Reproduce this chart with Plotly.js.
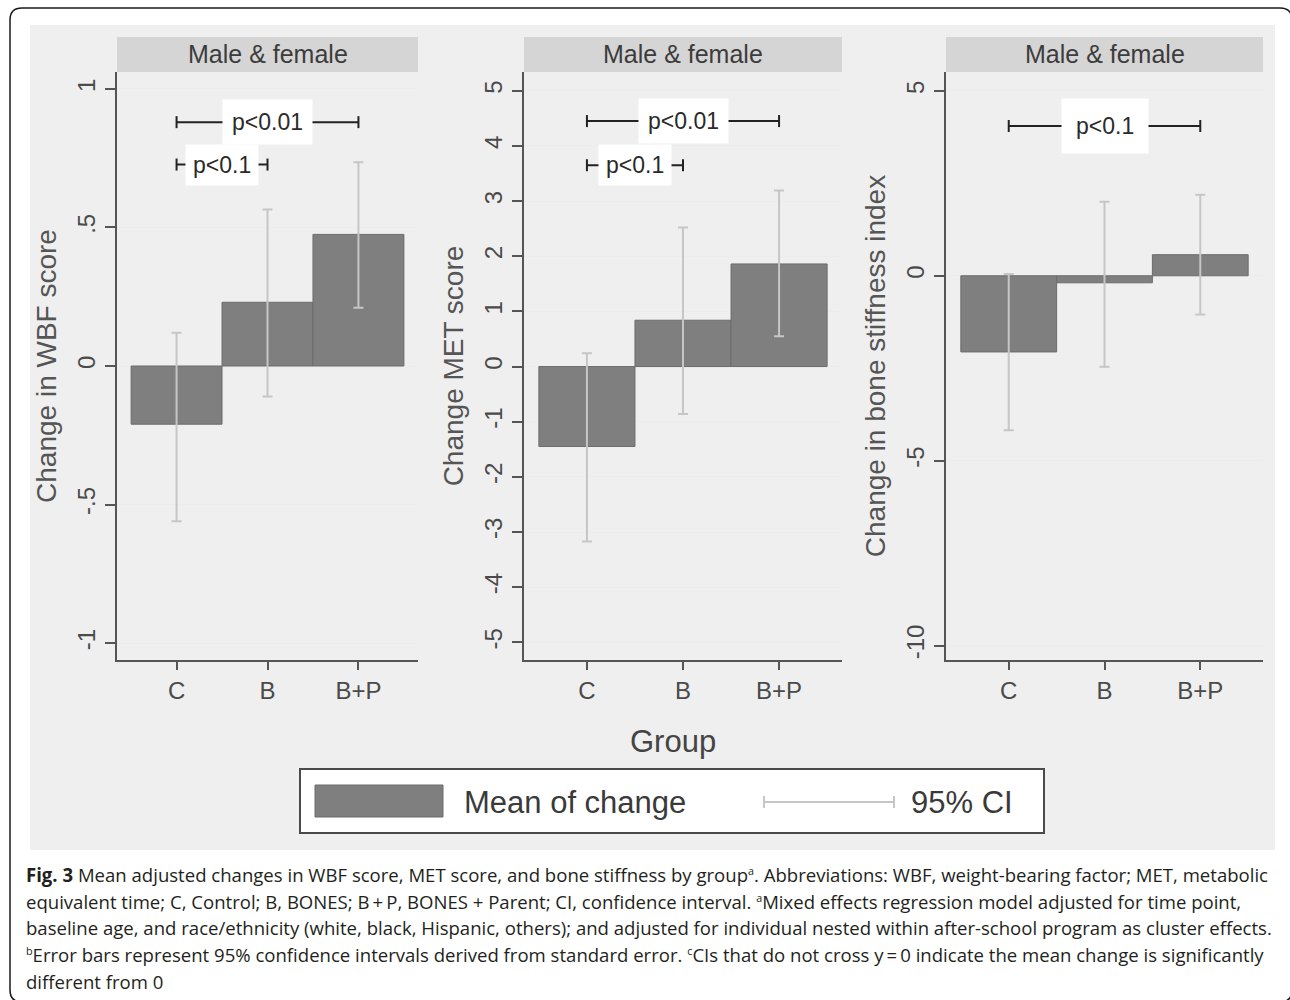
<!DOCTYPE html>
<html>
<head>
<meta charset="utf-8">
<script src="https://cdn.plot.ly/plotly-3.0.1.min.js"></script>
<style>
  html, body { margin: 0; padding: 0; background: #fff; overflow: hidden; }
  #wrap { position: relative; width: 1290px; height: 1000px; overflow: hidden; }
  #chart { position: absolute; left: 0; top: 0; width: 1290px; height: 1000px; }
  #caption { position: absolute; left: 26px; top: 862px; font-family: "Open Sans", "Noto Sans", sans-serif;
             font-size: 19px; color: #231f20; transform-origin: 0 0; white-space: nowrap; }
  #caption div { height: 26.7px; line-height: 26.7px; }
  #caption sup { font-size: 11px; line-height: 0; vertical-align: 7px; }
</style>
</head>
<body>
<div id="wrap">
  <div id="chart"></div>
  <div id="caption"></div>
</div>
<script>
// ---------------- data ----------------
const groups = ['C', 'B', 'B+P'];

const wbfMean = [-0.21, 0.23, 0.475];
const wbfLow  = [-0.56, -0.11, 0.21];
const wbfHigh = [0.12, 0.565, 0.735];

const metMean = [-1.45, 0.84, 1.86];
const metLow  = [-3.17, -0.86, 0.55];
const metHigh = [0.24, 2.52, 3.19];

const bsiMean = [-2.06, -0.19, 0.57];
const bsiLow  = [-4.18, -2.46, -1.05];
const bsiHigh = [0.05, 2.0, 2.19];

const wbfTickVals = [-1, -0.5, 0, 0.5, 1];
const wbfTickText = ['-1', '-.5', '0', '.5', '1'];
const metTickVals = [-5, -4, -3, -2, -1, 0, 1, 2, 3, 4, 5];
const metTickText = ['-5', '-4', '-3', '-2', '-1', '0', '1', '2', '3', '4', '5'];
const bsiTickVals = [-10, -5, 0, 5];
const bsiTickText = ['-10', '-5', '0', '5'];

const yTitles = ['Change in WBF score', 'Change MET score', 'Change in bone stiffness index'];
const stripLabel = 'Male & female';
const xTitle = 'Group';
const legendLabels = ['Mean of change', '95% CI'];

// significance brackets (from group index, to group index, y level, label)
const wbfPFrom = [0, 0], wbfPTo = [2, 1], wbfPY = [0.88, 0.727], wbfPText = ['p<0.01', 'p<0.1'];
const metPFrom = [0, 0], metPTo = [2, 1], metPY = [4.45, 3.65], metPText = ['p<0.01', 'p<0.1'];
const bsiPFrom = [0], bsiPTo = [2], bsiPY = [4.05], bsiPText = ['p<0.1'];

const captionLines = [
  '<b>Fig. 3</b> Mean adjusted changes in WBF score, MET score, and bone stiffness by group<sup>a</sup>. Abbreviations: WBF, weight-bearing factor; MET, metabolic',
  'equivalent time; C, Control; B, BONES; B\u2009+\u2009P, BONES + Parent; CI, confidence interval. <sup>a</sup>Mixed effects regression model adjusted for time point,',
  'baseline age, and race/ethnicity (white, black, Hispanic, others); and adjusted for individual nested within after-school program as cluster effects.',
  '<sup>b</sup>Error bars represent 95% confidence intervals derived from standard error. <sup>c</sup>CIs that do not cross y\u2009=\u20090 indicate the mean change is significantly',
  'different from 0'
];

// ---------------- layout helpers ----------------
const W = 1290, H = 1000;
const fx = v => v / W;
const fy = v => 1 - v / H;
const FONT = '"Liberation Sans", Arial, Helvetica, sans-serif';
const BAR = '#7f7f7f', BAR_LINE = '#6c6c6c', CI = '#c6c6c6', AX = '#555555';

const panels = [
  { mean: wbfMean, lo: wbfLow, hi: wbfHigh, tv: wbfTickVals, tt: wbfTickText, range: [-1.061, 1.061],
    pf: wbfPFrom, pt: wbfPTo, py: wbfPY, ptx: wbfPText, pad: [9, 7], x0: 117, x1: 418 },
  { mean: metMean, lo: metLow, hi: metHigh, tv: metTickVals, tt: metTickText, range: [-5.32, 5.34],
    pf: metPFrom, pt: metPTo, py: metPY, ptx: metPText, pad: [9, 7], x0: 524, x1: 842 },
  { mean: bsiMean, lo: bsiLow, hi: bsiHigh, tv: bsiTickVals, tt: bsiTickText, range: [-10.39, 5.51],
    pf: bsiPFrom, pt: bsiPTo, py: bsiPY, ptx: bsiPText, pad: [14], x0: 946, x1: 1263 }
];
const plotTop = 72, plotBottom = 660, stripTop = 37;

const traces = [];
const layout = {
  width: W, height: H,
  margin: { l: 0, r: 0, t: 0, b: 0 },
  paper_bgcolor: '#ffffff',
  plot_bgcolor: '#ffffff',
  bargap: 0,
  showlegend: false,
  font: { family: FONT, color: '#444' },
  shapes: [],
  annotations: []
};

// grey figure background
layout.shapes.push({ type: 'rect', xref: 'paper', yref: 'paper', layer: 'below',
  x0: fx(30), x1: fx(1275), y0: fy(850), y1: fy(25), fillcolor: '#efefef', line: { width: 0 } });

panels.forEach((p, i) => {
  const xa = i === 0 ? 'x' : 'x' + (i + 1);
  const ya = i === 0 ? 'y' : 'y' + (i + 1);
  const xk = i === 0 ? 'xaxis' : 'xaxis' + (i + 1);
  const yk = i === 0 ? 'yaxis' : 'yaxis' + (i + 1);

  traces.push({
    type: 'bar', x: groups, y: p.mean, base: 0, width: 1, xaxis: xa, yaxis: ya,
    marker: { color: BAR, line: { color: BAR_LINE, width: 1 } },
    error_y: { type: 'data', symmetric: false,
      array: p.hi.map((h, k) => h - p.mean[k]),
      arrayminus: p.mean.map((m, k) => m - p.lo[k]),
      color: CI, thickness: 2, width: 5 },
    hoverinfo: 'skip'
  });

  layout[xk] = {
    domain: [fx(p.x0), fx(p.x1)], anchor: ya, type: 'category', range: [-0.655, 2.655],
    showline: true, linecolor: AX, linewidth: 2, ticks: 'outside', ticklen: 8, tickwidth: 2, tickcolor: AX,
    showgrid: false, zeroline: false, fixedrange: true,
    tickfont: { family: FONT, size: 24, color: '#4a4a4a' }
  };
  layout[yk] = {
    domain: [fy(plotBottom), fy(plotTop)], anchor: xa, range: p.range,
    tickvals: p.tv, ticktext: p.tt, tickangle: -90,
    showline: true, linecolor: AX, linewidth: 2, ticks: 'outside', ticklen: 10, tickwidth: 2, tickcolor: AX,
    showgrid: true, gridcolor: '#ececec', gridwidth: 1, zeroline: false, fixedrange: true,
    tickfont: { family: FONT, size: 24, color: '#4a4a4a' },
    title: { text: yTitles[i], font: { family: FONT, size: 28, color: '#555' }, standoff: 9 }
  };

  // strip header
  layout.shapes.push({ type: 'rect', xref: 'paper', yref: 'paper', layer: 'below',
    x0: fx(p.x0), x1: fx(p.x1), y0: fy(plotTop), y1: fy(stripTop), fillcolor: '#d5d5d5', line: { width: 0 } });
  layout.annotations.push({ xref: 'paper', yref: 'paper', x: fx((p.x0 + p.x1) / 2), y: fy((stripTop + plotTop) / 2),
    text: stripLabel, showarrow: false, xanchor: 'center', yanchor: 'middle',
    font: { family: FONT, size: 25, color: '#3c3c3c' } });

  // significance brackets
  p.ptx.forEach((t, k) => {
    const a = p.pf[k], b = p.pt[k], yy = p.py[k];
    layout.shapes.push({ type: 'line', xref: xa, yref: ya, x0: a, x1: b, y0: yy, y1: yy,
      line: { color: '#222', width: 2 } });
    [a, b].forEach(xv => layout.shapes.push({ type: 'line', xref: xa, yref: ya, ysizemode: 'pixel', yanchor: yy,
      x0: xv, x1: xv, y0: -6, y1: 6, line: { color: '#222', width: 2 } }));
    layout.annotations.push({ xref: xa, yref: ya, x: (a + b) / 2, y: yy, text: t, showarrow: false,
      xanchor: 'center', yanchor: 'middle', bgcolor: '#ffffff', borderpad: p.pad[k],
      font: { family: FONT, size: 23, color: '#2a2a2a' } });
  });
});

// common x title
layout.annotations.push({ xref: 'paper', yref: 'paper', x: fx(673), y: fy(741), text: xTitle, showarrow: false,
  xanchor: 'center', yanchor: 'middle', font: { family: FONT, size: 31, color: '#444' } });

// legend box
layout.shapes.push({ type: 'rect', xref: 'paper', yref: 'paper', x0: fx(300), x1: fx(1044), y0: fy(833), y1: fy(769),
  fillcolor: '#ffffff', line: { color: '#4a4a4a', width: 2 } });
layout.shapes.push({ type: 'rect', xref: 'paper', yref: 'paper', x0: fx(315), x1: fx(443), y0: fy(817), y1: fy(785),
  fillcolor: BAR, line: { color: BAR_LINE, width: 1 } });
layout.shapes.push({ type: 'line', xref: 'paper', yref: 'paper', x0: fx(764), x1: fx(894), y0: fy(802), y1: fy(802),
  line: { color: CI, width: 2 } });
[764, 894].forEach(xv => layout.shapes.push({ type: 'line', xref: 'paper', yref: 'paper',
  x0: fx(xv), x1: fx(xv), y0: fy(796), y1: fy(808), line: { color: CI, width: 2 } }));
layout.annotations.push({ xref: 'paper', yref: 'paper', x: fx(462), y: fy(802), text: legendLabels[0], showarrow: false,
  xanchor: 'left', yanchor: 'middle', font: { family: FONT, size: 31, color: '#3a3a3a' } });
layout.annotations.push({ xref: 'paper', yref: 'paper', x: fx(909), y: fy(802), text: legendLabels[1], showarrow: false,
  xanchor: 'left', yanchor: 'middle', font: { family: FONT, size: 31, color: '#3a3a3a' } });

// rounded outer frame (right and bottom edges fall just outside the canvas)
(function () {
  const L = 10, T = 8, R = 1292, B = 1002, r = 12;
  const P = (x, y) => fx(x).toFixed(5) + ',' + fy(y).toFixed(5);
  const path = 'M' + P(L, B - r) + ' L' + P(L, T + r) + ' Q' + P(L, T) + ' ' + P(L + r, T) +
    ' L' + P(R - r, T) + ' Q' + P(R, T) + ' ' + P(R, T + r) + ' L' + P(R, B - r) +
    ' Q' + P(R, B) + ' ' + P(R - r, B) + ' L' + P(L + r, B) + ' Q' + P(L, B) + ' ' + P(L, B - r) + ' Z';
  layout.shapes.push({ type: 'path', xref: 'paper', yref: 'paper', path: path, layer: 'above',
    line: { color: '#1a1a1a', width: 1.5 }, fillcolor: 'rgba(0,0,0,0)' });
})();

Plotly.newPlot('chart', traces, layout, { displayModeBar: false, staticPlot: true }).then(() => {
  const cap = document.getElementById('caption');
  cap.innerHTML = captionLines.map(l => '<div>' + l + '</div>').join('');
  const fit = () => {
    const first = cap.firstChild;
    const span = document.createElement('span');
    span.innerHTML = captionLines[0];
    first.innerHTML = ''; first.appendChild(span);
    const tw = span.getBoundingClientRect().width;
    const k = 1242 / tw;
    cap.style.transform = 'scaleX(' + k + ')';
  };
  if (document.fonts && document.fonts.ready) document.fonts.ready.then(fit); else fit();
});
</script>
</body>
</html>
